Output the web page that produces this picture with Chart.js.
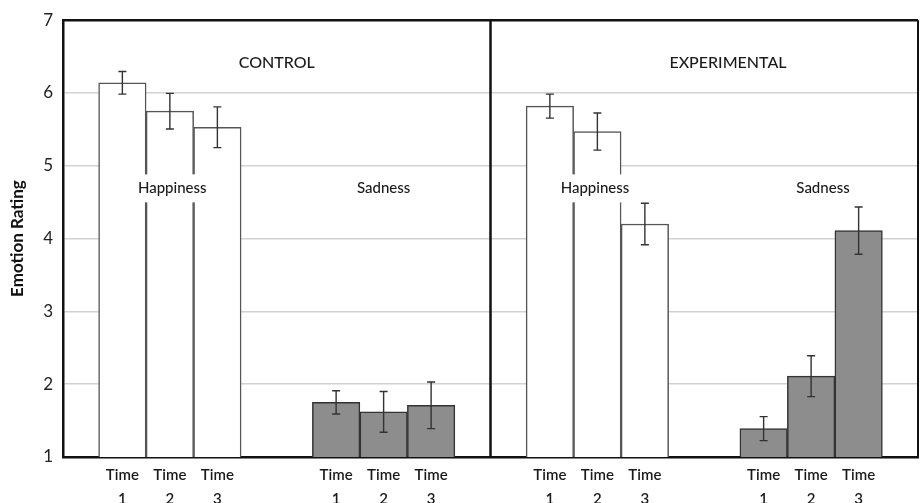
<!DOCTYPE html>
<html lang="en">
<head>
<meta charset="UTF-8">
<title>Emotion Rating</title>
<script src="https://cdn.jsdelivr.net/npm/chart.js"></script>
<style>
  html, body { margin: 0; padding: 0; background: #fff; }
  #wrap { width: 920px; height: 503px; }
</style>
</head>
<body>
<div id="wrap"><canvas id="chart" width="920" height="503"></canvas></div>
<script>
// values
const timeLabels = ['1', '2', '3'];
const controlHappiness = [6.14, 5.75, 5.53];
const controlHappinessErr = [0.155, 0.245, 0.28];
const controlSadness = [1.75, 1.62, 1.71];
const controlSadnessErr = [0.16, 0.28, 0.32];
const expHappiness = [5.82, 5.47, 4.20];
const expHappinessErr = [0.165, 0.255, 0.285];
const expSadness = [1.39, 2.11, 4.11];
const expSadnessErr = [0.165, 0.28, 0.325];
const yTicks = [1, 2, 3, 4, 5, 6, 7];

// where each group of three bars starts on the x scale (0..18)
const groupStart = [1.25, 5.75, 10.25, 14.75];
const dividerAt = 9;

const notes = [
  { text: 'CONTROL', x: 4.5, y: 6.41, box: false },
  { text: 'EXPERIMENTAL', x: 14, y: 6.41, box: false },
  { text: 'Happiness', x: 2.3, y: 4.69, box: true },
  { text: 'Sadness', x: 6.75, y: 4.69, box: true },
  { text: 'Happiness', x: 11.2, y: 4.69, box: true },
  { text: 'Sadness', x: 16.0, y: 4.69, box: true }
];

const FONT = 'Lato, "DejaVu Sans", sans-serif';

function pts(vals, g) {
  return vals.map((v, i) => ({ x: groupStart[g] + i, y: v }));
}

const tickPos = [];
const tickText = {};
groupStart.forEach(s => timeLabels.forEach((t, i) => {
  tickPos.push(s + i);
  tickText[s + i] = t;
}));

const errorBars = {
  id: 'errorBars',
  afterDatasetsDraw(chart) {
    const ctx = chart.ctx;
    const y = chart.scales.y;
    ctx.save();
    ctx.strokeStyle = '#333';
    ctx.lineWidth = 1.4;
    chart.data.datasets.forEach((ds, di) => {
      chart.getDatasetMeta(di).data.forEach((bar, i) => {
        const v = ds.data[i].y, e = ds.errors[i];
        const top = y.getPixelForValue(v + e), bot = y.getPixelForValue(v - e);
        ctx.beginPath();
        ctx.moveTo(bar.x, top); ctx.lineTo(bar.x, bot);
        ctx.moveTo(bar.x - 4, top); ctx.lineTo(bar.x + 4, top);
        ctx.moveTo(bar.x - 4, bot); ctx.lineTo(bar.x + 4, bot);
        ctx.stroke();
      });
    });
    ctx.restore();
  }
};

const frame = {
  id: 'frame',
  afterDraw(chart) {
    const { ctx, chartArea: a } = chart;
    const x = chart.scales.x;
    ctx.save();
    ctx.strokeStyle = '#111';
    ctx.lineWidth = 2.5;
    ctx.beginPath();
    ctx.moveTo(a.left, a.top); ctx.lineTo(a.right, a.top);
    ctx.stroke();
    ctx.lineWidth = 2;
    ctx.beginPath();
    ctx.moveTo(a.right, a.top); ctx.lineTo(a.right, a.bottom);
    ctx.stroke();
    ctx.lineWidth = 2.5;
    const dx = x.getPixelForValue(dividerAt);
    ctx.beginPath();
    ctx.moveTo(dx, a.top); ctx.lineTo(dx, a.bottom);
    ctx.stroke();
    ctx.restore();
  }
};

const labels = {
  id: 'labels',
  afterDatasetsDraw(chart) {
    const ctx = chart.ctx;
    const xs = chart.scales.x, ys = chart.scales.y;
    ctx.save();
    ctx.textAlign = 'center';
    ctx.textBaseline = 'middle';
    notes.forEach(n => {
      const px = xs.getPixelForValue(n.x), py = ys.getPixelForValue(n.y);
      ctx.font = (n.box ? '500 15px ' : '500 16px ') + FONT;
      if (n.box) {
        const w = ctx.measureText(n.text).width + 8;
        ctx.fillStyle = '#fff';
        ctx.fillRect(px - w / 2, py - 14, w, 28);
      }
      ctx.fillStyle = '#1a1a1a';
      ctx.fillText(n.text, px, py);
    });
    ctx.restore();
  }
};

new Chart(document.getElementById('chart'), {
  type: 'bar',
  data: {
    datasets: [
      {
        label: 'Happiness',
        data: pts(controlHappiness, 0).concat(pts(expHappiness, 2)),
        errors: controlHappinessErr.concat(expHappinessErr),
        backgroundColor: '#fff',
        borderColor: '#555',
        borderWidth: 1.5,
        grouped: false
      },
      {
        label: 'Sadness',
        data: pts(controlSadness, 1).concat(pts(expSadness, 3)),
        errors: controlSadnessErr.concat(expSadnessErr),
        backgroundColor: '#8d8d8d',
        borderColor: '#333',
        borderWidth: 1.5,
        grouped: false
      }
    ]
  },
  options: {
    responsive: false,
    animation: false,
    barThickness: 47.5,
    layout: { padding: { top: 16, right: 2, left: 0, bottom: 0 } },
    plugins: { legend: { display: false }, tooltip: { enabled: false } },
    scales: {
      x: {
        type: 'linear',
        min: 0, max: 18,
        offset: false,
        grid: { display: false, offset: false, drawTicks: false },
        border: { color: '#111', width: 2.5 },
        afterBuildTicks: s => { s.ticks = tickPos.map(v => ({ value: v })); },
        afterFit: s => { s.height = 46; },
        ticks: {
          autoSkip: false,
          maxRotation: 0,
          padding: 7,
          color: '#1a1a1a',
          font: { family: FONT, size: 15, weight: '600', lineHeight: 1.55 },
          callback: v => ['Time', tickText[v]]
        }
      },
      y: {
        min: 1, max: 7,
        afterBuildTicks: s => { s.ticks = yTicks.map(v => ({ value: v })); },
        afterFit: s => { s.width = 63; },
        grid: { color: '#d2d2d2', lineWidth: 1.5, drawTicks: false },
        border: { color: '#111', width: 2.5 },
        ticks: {
          padding: 10,
          color: '#222',
          font: { family: FONT, size: 17 }
        },
        title: {
          display: true,
          text: 'Emotion Rating',
          color: '#111',
          padding: { top: 7, bottom: 0 },
          font: { family: FONT, size: 17, weight: 'bold' }
        }
      }
    }
  },
  plugins: [errorBars, labels, frame]
});
</script>
</body>
</html>
